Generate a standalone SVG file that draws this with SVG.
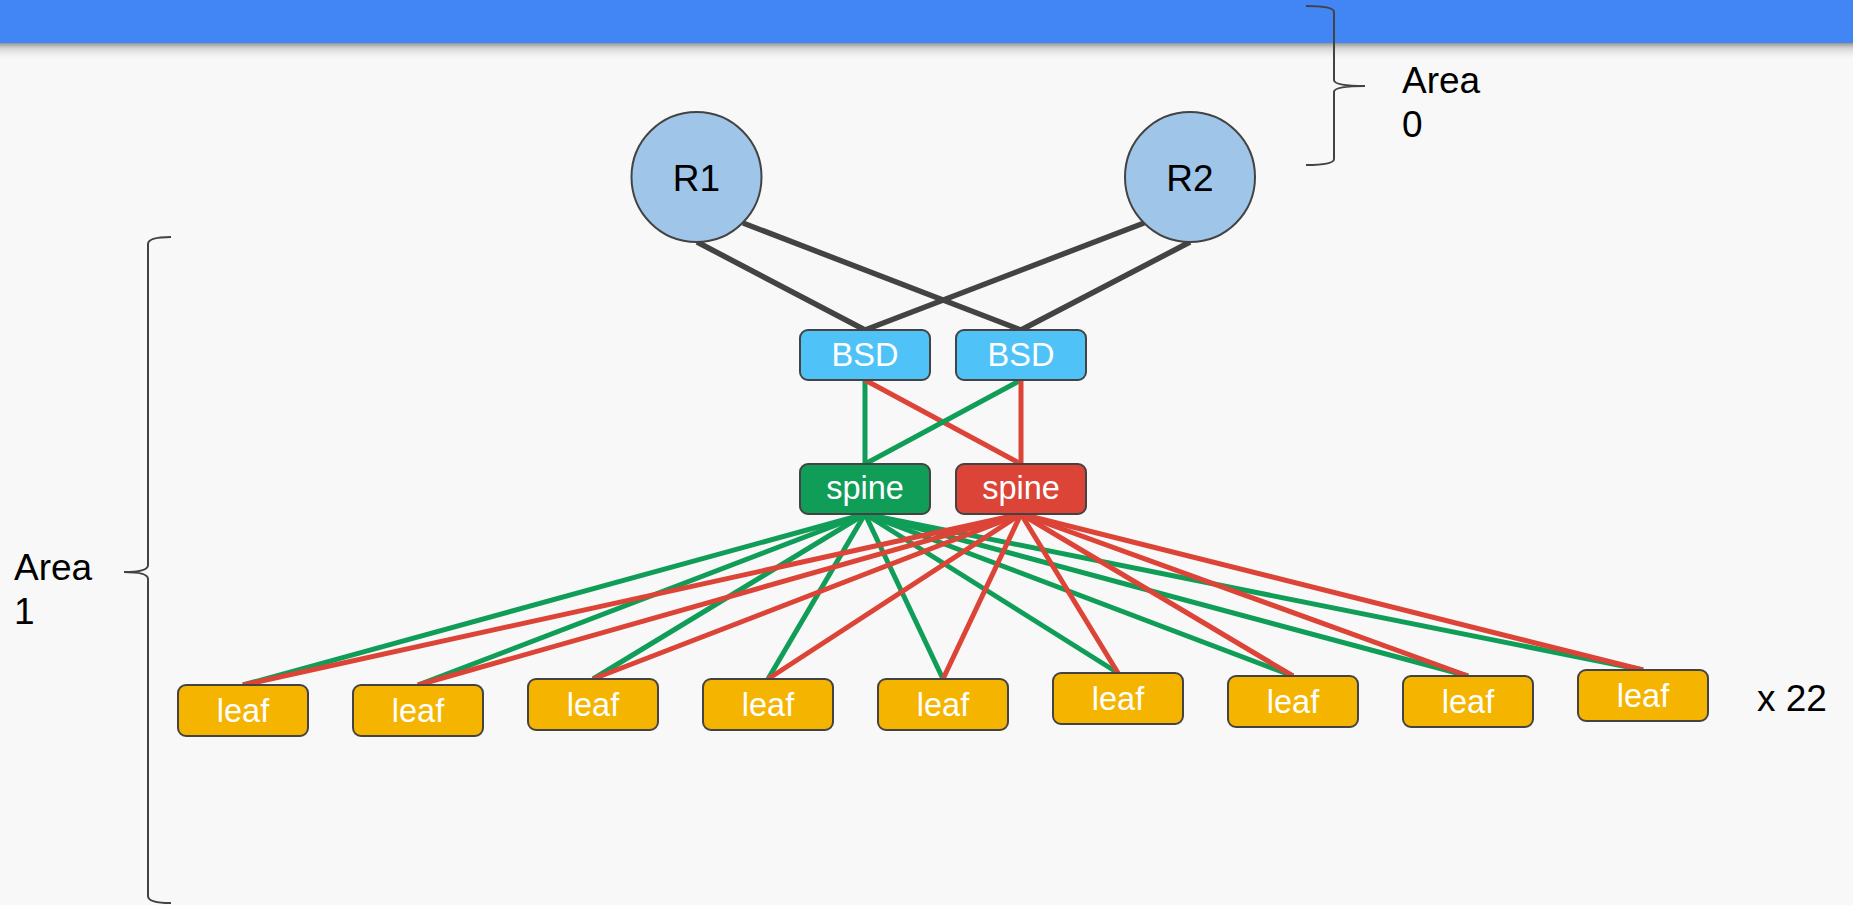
<svg xmlns="http://www.w3.org/2000/svg" width="1853" height="905" viewBox="0 0 1853 905">
<defs>
<linearGradient id="shadow" x1="0" y1="0" x2="0" y2="1">
<stop offset="0" stop-color="#8a8a8a" stop-opacity="0.9"/>
<stop offset="0.3" stop-color="#bdbdbd" stop-opacity="0.6"/>
<stop offset="1" stop-color="#f8f8f8" stop-opacity="0"/>
</linearGradient>
<style>
.router{fill:#9fc5e8;stroke:#434343;stroke-width:2}
.box{stroke:#434343;stroke-width:2}
.bsd{fill:#4fc3f7}
.sg{fill:#0f9d58}
.sr{fill:#db4437}
.leaf{fill:#f4b400}
.wt{font-family:"Liberation Sans",Arial,sans-serif;font-size:32.5px;fill:#ffffff;text-anchor:middle}
.bt{font-family:"Liberation Sans",Arial,sans-serif;font-size:37px;fill:#000000}
.blk{stroke:#434343;stroke-width:5.5;fill:none}
.grn{stroke:#0f9d58;stroke-width:5;fill:none}
.red{stroke:#db4437;stroke-width:5;fill:none}
.brace{stroke:#434343;stroke-width:2;fill:none}
</style>
</defs>
<rect x="0" y="0" width="1853" height="905" fill="#f8f8f8"/>
<rect x="0" y="43" width="1853" height="18" fill="url(#shadow)"/>
<rect x="0" y="0" width="1853" height="43" fill="#4285f4"/>

<g id="connectors">
<line class="blk" x1="697" y1="242" x2="865" y2="330"/>
<line class="blk" x1="743" y1="223" x2="1021" y2="330"/>
<line class="blk" x1="1144" y1="223" x2="865" y2="330"/>
<line class="blk" x1="1190" y1="242" x2="1021" y2="330"/>
<line class="grn" x1="865" y1="380" x2="865" y2="464"/>
<line class="red" x1="865" y1="380" x2="1021" y2="464"/>
<line class="grn" x1="1021" y1="380" x2="865" y2="464"/>
<line class="red" x1="1021" y1="380" x2="1021" y2="464"/>
<g class="grn">
<line x1="865" y1="514" x2="243" y2="685"/>
<line x1="865" y1="514" x2="418" y2="685"/>
<line x1="865" y1="514" x2="593" y2="679"/>
<line x1="865" y1="514" x2="768" y2="679"/>
<line x1="865" y1="514" x2="943" y2="679"/>
<line x1="865" y1="514" x2="1118" y2="673"/>
<line x1="865" y1="514" x2="1293" y2="676"/>
<line x1="865" y1="514" x2="1468" y2="676"/>
<line x1="865" y1="514" x2="1643" y2="670"/>
</g>
<g class="red">
<line x1="1021" y1="514" x2="243" y2="685"/>
<line x1="1021" y1="514" x2="418" y2="685"/>
<line x1="1021" y1="514" x2="593" y2="679"/>
<line x1="1021" y1="514" x2="768" y2="679"/>
<line x1="1021" y1="514" x2="943" y2="679"/>
<line x1="1021" y1="514" x2="1118" y2="673"/>
<line x1="1021" y1="514" x2="1293" y2="676"/>
<line x1="1021" y1="514" x2="1468" y2="676"/>
<line x1="1021" y1="514" x2="1643" y2="670"/>
</g>
</g>

<g id="R1"><circle class="router" cx="696.5" cy="177" r="65"/><text class="bt" x="696.5" y="191" text-anchor="middle">R1</text></g>
<g id="R2"><circle class="router" cx="1190" cy="177" r="65"/><text class="bt" x="1190" y="191" text-anchor="middle">R2</text></g>

<g id="bsd1"><rect class="box bsd" x="800" y="330" width="130" height="50" rx="8"/><text class="wt" x="865" y="366">BSD</text></g>
<g id="bsd2"><rect class="box bsd" x="956" y="330" width="130" height="50" rx="8"/><text class="wt" x="1021" y="366">BSD</text></g>

<g id="spine1"><rect class="box sg" x="800" y="464" width="130" height="50" rx="8"/><text class="wt" x="865" y="499">spine</text></g>
<g id="spine2"><rect class="box sr" x="956" y="464" width="130" height="50" rx="8"/><text class="wt" x="1021" y="499">spine</text></g>

<g id="leaf1"><rect class="box leaf" x="178" y="685" width="130" height="51" rx="8"/><text class="wt" x="243" y="722">leaf</text></g>
<g id="leaf2"><rect class="box leaf" x="353" y="685" width="130" height="51" rx="8"/><text class="wt" x="418" y="722">leaf</text></g>
<g id="leaf3"><rect class="box leaf" x="528" y="679" width="130" height="51" rx="8"/><text class="wt" x="593" y="716">leaf</text></g>
<g id="leaf4"><rect class="box leaf" x="703" y="679" width="130" height="51" rx="8"/><text class="wt" x="768" y="716">leaf</text></g>
<g id="leaf5"><rect class="box leaf" x="878" y="679" width="130" height="51" rx="8"/><text class="wt" x="943" y="716">leaf</text></g>
<g id="leaf6"><rect class="box leaf" x="1053" y="673" width="130" height="51" rx="8"/><text class="wt" x="1118" y="710">leaf</text></g>
<g id="leaf7"><rect class="box leaf" x="1228" y="676" width="130" height="51" rx="8"/><text class="wt" x="1293" y="713">leaf</text></g>
<g id="leaf8"><rect class="box leaf" x="1403" y="676" width="130" height="51" rx="8"/><text class="wt" x="1468" y="713">leaf</text></g>
<g id="leaf9"><rect class="box leaf" x="1578" y="670" width="130" height="51" rx="8"/><text class="wt" x="1643" y="707">leaf</text></g>

<g id="count"><text class="bt" x="1757" y="711">x 22</text></g>

<g id="area0">
<path class="brace" d="M1306,6 Q1334,6 1334,12 L1334,80 Q1334,86 1365,86 Q1334,86 1334,92 L1334,159 Q1334,165 1306,165"/>
<text class="bt" x="1402" y="93">Area</text>
<text class="bt" x="1402" y="137">0</text>
</g>
<g id="area1">
<path class="brace" d="M171,237 Q148,237 148,244 L148,565 Q148,572 124,572 Q148,572 148,579 L148,896 Q148,903 171,903"/>
<text class="bt" x="14" y="580">Area</text>
<text class="bt" x="14" y="624">1</text>
</g>
</svg>
